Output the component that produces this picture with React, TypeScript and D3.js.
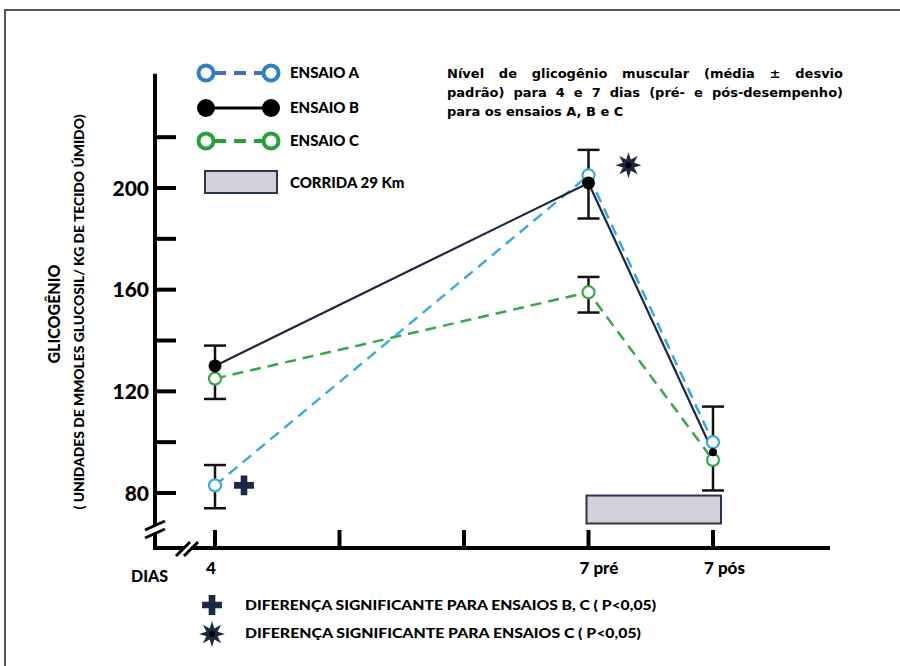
import React, { useLayoutEffect, useRef } from 'react'
import * as d3 from 'd3'

// categories on the x axis (days)
const days = ['4', '5', '6', '7 pré', '7 pós']
const dayLabels = ['4', '', '', '7 pré', '7 pós']
const measuredDays = ['4', '7 pré', '7 pós']

// glycogen level per trial
const ensaioA = [83, 205, 100]
const ensaioB = [130, 202, 96]
const ensaioC = [125, 159, 93]

// error bars (média ± desvio padrão)
const errDays = ['4', '4', '7 pré', '7 pré', '7 pós']
const errLow = [117, 74, 188, 151, 81]
const errHigh = [138, 91, 215, 165, 114]

const yTicks = [80, 100, 120, 140, 160, 180, 200, 220]
const yTickLabels = [80, 120, 160, 200]

// 29 km run between 7 pré and 7 pós
const runDays = ['7 pré', '7 pós']
const runRange = [68, 79]

// significance marks
const plusMark = { day: '4', value: 83 }
const starMark = { day: '7 pré', value: 209 }

const titleLines = [
  'Nível de glicogênio muscular (média ± desvio',
  'padrão) para 4 e 7 dias (pré- e pós-desempenho)',
  'para os ensaios A, B e C',
]

const font = "Lato, 'Open Sans', sans-serif"
const blue = '#3ba9d9'
const green = '#3aa64c'
const navy = '#1c2744'

function starPath(r: number, inner: number) {
  const pts: [number, number][] = d3.range(16).map(i => [i * Math.PI / 8, i % 2 ? inner : r])
  return d3.lineRadial().curve(d3.curveLinearClosed)(pts) as string
}

export default function App() {
  const titleRef = useRef<SVGGElement>(null)

  // justify the first two title lines by stretching the word gaps
  useLayoutEffect(() => {
    const texts = titleRef.current?.querySelectorAll('text.just')
    texts?.forEach(el => {
      const t = el as SVGTextElement
      t.setAttribute('word-spacing', '0')
      const w = t.getComputedTextLength()
      const gaps = (t.textContent || '').split(' ').length - 1
      t.setAttribute('word-spacing', String((396 - w) / gaps))
    })
  }, [])

  const x = d3.scalePoint<string>().domain(days).range([215, 713])
  const y = d3.scaleLinear().domain([80, 200]).range([493, 188])

  const line = d3.line<number>()
    .x((_, i) => x(measuredDays[i]) as number)
    .y(d => y(d))

  const plus = d3.symbol().type(d3.symbolCross).size(220)()
  const star = starPath(13, 6)

  const yAxisTop = y(245)
  const axisY = 548
  const axisX = 155

  return (
    <svg width={900} height={666} style={{ display: 'block', position: 'absolute', left: 0, top: 0, background: '#fff' }}
      fontFamily={font}>
      <rect x={5} y={10} width={920} height={700} fill="#fff" stroke="#555" strokeWidth={2} />

      {/* y axis */}
      <line x1={axisX} x2={axisX} y1={yAxisTop} y2={axisY + 2} stroke="#000" strokeWidth={4} />
      {yTicks.map(t => (
        <line key={t} x1={axisX} x2={axisX + 21} y1={y(t)} y2={y(t)} stroke="#000" strokeWidth={4} />
      ))}
      {yTickLabels.map(t => (
        <text key={t} x={149} y={y(t)} dy="0.36em" textAnchor="end" fontSize={21} fontWeight={900}>{t}</text>
      ))}

      {/* x axis */}
      <line x1={axisX - 2} x2={830} y1={axisY} y2={axisY} stroke="#000" strokeWidth={4} />
      {days.map(d => (
        <line key={d} x1={x(d)} x2={x(d)} y1={axisY} y2={axisY - 18} stroke="#000" strokeWidth={4} />
      ))}
      {days.map((d, i) => (
        <text key={d} x={(x(d) as number) - 9} y={axisY + 26} fontSize={17} fontWeight={900}>{dayLabels[i]}</text>
      ))}
      <text x={131} y={axisY + 34} fontSize={16} fontWeight={900}>DIAS</text>

      {/* axis breaks */}
      <g stroke="#000" strokeWidth={3}>
        <rect x={axisX - 4} y={526} width={8} height={7} fill="#fff" stroke="none" />
        <line x1={axisX - 10} y1={530} x2={axisX + 10} y2={521} />
        <line x1={axisX - 10} y1={538} x2={axisX + 10} y2={529} />
        <rect x={184} y={axisY - 4} width={7} height={8} fill="#fff" stroke="none" />
        <line x1={176} y1={axisY + 8} x2={190} y2={axisY - 6} />
        <line x1={184} y1={axisY + 8} x2={198} y2={axisY - 6} />
      </g>

      {/* y axis title */}
      <text transform="translate(60,314) rotate(-90)" textAnchor="middle" fontSize={16} fontWeight={900}>GLICOGÊNIO</text>
      <text transform="translate(84,312) rotate(-90)" textAnchor="middle" fontSize={12.5} fontWeight={900}
        textLength={395} lengthAdjust="spacingAndGlyphs">( UNIDADES DE MMOLES GLUCOSIL/ KG DE TECIDO ÚMIDO)</text>

      {/* run period */}
      <rect x={(x(runDays[0]) as number) - 2} y={y(runRange[1])} width={(x(runDays[1]) as number) - (x(runDays[0]) as number) + 10}
        height={y(runRange[0]) - y(runRange[1])} fill="#d2d2d6" stroke="#2a3552" strokeWidth={2} />

      {/* lines */}
      <path d={line(ensaioC) as string} fill="none" stroke={green} strokeWidth={2.5} strokeDasharray="11 7" />
      <path d={line(ensaioA) as string} fill="none" stroke={blue} strokeWidth={2.5} strokeDasharray="11 7" />
      <path d={line(ensaioB) as string} fill="none" stroke={navy} strokeWidth={2.2} />

      {/* error bars */}
      {errDays.map((d, i) => {
        const cx = x(d) as number
        return (
          <g key={i} stroke="#111" strokeWidth={2.5}>
            <line x1={cx} x2={cx} y1={y(errLow[i])} y2={y(errHigh[i])} />
            <line x1={cx - 11} x2={cx + 11} y1={y(errLow[i])} y2={y(errLow[i])} />
            <line x1={cx - 11} x2={cx + 11} y1={y(errHigh[i])} y2={y(errHigh[i])} />
          </g>
        )
      })}

      {/* markers */}
      {ensaioC.map((v, i) => (
        <circle key={'c' + i} cx={x(measuredDays[i])} cy={y(v)} r={6} fill="#fff" stroke={green} strokeWidth={2.2} />
      ))}
      {ensaioA.map((v, i) => (
        <circle key={'a' + i} cx={x(measuredDays[i])} cy={y(v)} r={6} fill="#fff" stroke={blue} strokeWidth={2.2} />
      ))}
      {ensaioB.map((v, i) => (
        <circle key={'b' + i} cx={x(measuredDays[i])} cy={y(v)} r={i === 2 ? 4 : 6.5} fill="#000" />
      ))}

      {/* significance marks */}
      <path d={plus as string} transform={`translate(${(x(plusMark.day) as number) + 29},${y(plusMark.value)})`} fill={navy} />
      <path d={star} transform={`translate(${(x(starMark.day) as number) + 40},${y(starMark.value)})`} fill={navy} />
      <circle cx={(x(starMark.day) as number) + 40} cy={y(starMark.value)} r={3} fill="#000" />

      {/* legend */}
      <g fontSize={15} fontWeight={900}>
        <line x1={206} x2={271} y1={73} y2={73} stroke="#3f6fc0" strokeWidth={4} strokeDasharray="12 8" strokeDashoffset={-8} />
        <circle cx={206} cy={73} r={7.5} fill="#fff" stroke="#2f7fc4" strokeWidth={4} />
        <circle cx={271} cy={73} r={7.5} fill="#fff" stroke="#2f7fc4" strokeWidth={4} />
        <text x={290} y={78}>ENSAIO A</text>

        <line x1={206} x2={271} y1={108} y2={108} stroke="#000" strokeWidth={3} />
        <circle cx={206} cy={108} r={9} fill="#000" />
        <circle cx={271} cy={108} r={9} fill="#000" />
        <text x={290} y={113}>ENSAIO B</text>

        <line x1={206} x2={271} y1={141} y2={141} stroke="#27a03c" strokeWidth={4} strokeDasharray="12 8" strokeDashoffset={-8} />
        <circle cx={206} cy={141} r={7.5} fill="#fff" stroke="#27a03c" strokeWidth={4} />
        <circle cx={271} cy={141} r={7.5} fill="#fff" stroke="#27a03c" strokeWidth={4} />
        <text x={290} y={146}>ENSAIO C</text>

        <rect x={205} y={171} width={72} height={22} fill="#d2d2d6" stroke="#2a3552" strokeWidth={2} />
        <text x={290} y={188}>CORRIDA 29 Km</text>
      </g>

      {/* title */}
      <g ref={titleRef} fontSize={13} fontWeight="bold" fontFamily="'DejaVu Sans', Verdana, sans-serif">
        {titleLines.map((t, i) => (
          <text key={i} className={i < 2 ? 'just' : undefined} x={447} y={78 + i * 19}>{t}</text>
        ))}
      </g>

      {/* footnotes */}
      <path d={plus as string} transform="translate(212,605)" fill={navy} />
      <text x={245} y={610} fontSize={13} fontWeight={900} textLength={411} lengthAdjust="spacingAndGlyphs">DIFERENÇA SIGNIFICANTE PARA ENSAIOS B, C ( P&lt;0,05)</text>
      <path d={star} transform="translate(212,634)" fill={navy} />
      <circle cx={212} cy={634} r={3} fill="#000" />
      <text x={245} y={638} fontSize={13} fontWeight={900} textLength={396} lengthAdjust="spacingAndGlyphs">DIFERENÇA SIGNIFICANTE PARA ENSAIOS  C ( P&lt;0,05)</text>
    </svg>
  )
}
